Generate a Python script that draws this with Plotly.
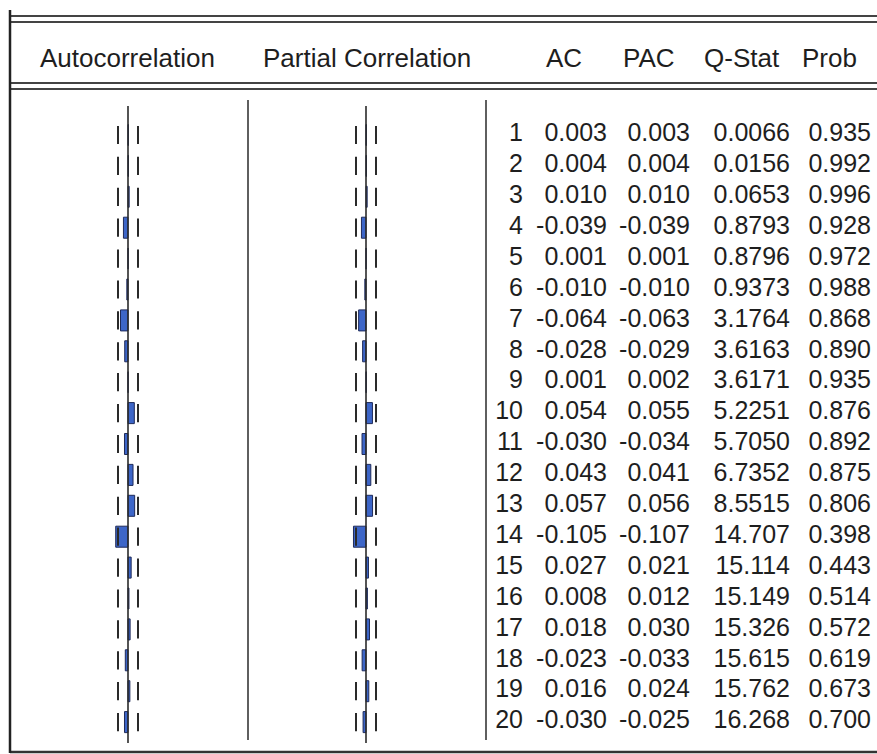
import plotly.graph_objects as go

# ---------------- data ----------------
LAGS = list(range(1, 21))
AC = [0.003, 0.004, 0.010, -0.039, 0.001, -0.010, -0.064, -0.028, 0.001, 0.054,
      -0.030, 0.043, 0.057, -0.105, 0.027, 0.008, 0.018, -0.023, 0.016, -0.030]
PAC = [0.003, 0.004, 0.010, -0.039, 0.001, -0.010, -0.063, -0.029, 0.002, 0.055,
       -0.034, 0.041, 0.056, -0.107, 0.021, 0.012, 0.030, -0.033, 0.024, -0.025]
Q_STAT = [0.0066, 0.0156, 0.0653, 0.8793, 0.8796, 0.9373, 3.1764, 3.6163, 3.6171, 5.2251,
          5.7050, 6.7352, 8.5515, 14.707, 15.114, 15.149, 15.326, 15.615, 15.762, 16.268]
PROB = [0.935, 0.992, 0.996, 0.928, 0.972, 0.988, 0.868, 0.890, 0.935, 0.876,
        0.892, 0.875, 0.806, 0.398, 0.443, 0.514, 0.572, 0.619, 0.673, 0.700]
BOUND = 0.0855  # approx. 2/sqrt(T) confidence band
HEADERS = ["Autocorrelation", "Partial Correlation", "AC", "PAC", "Q-Stat", "Prob"]

# ---------------- layout helpers (pixels) ----------------
W, H = 877, 754
def px(x):
    return x / W
def py(y):
    return 1 - y / H

ROW1_Y, ROW_STEP = 135, 30.9
Y_TOP = ROW1_Y - ROW_STEP / 2
Y_BOT = ROW1_Y + 19.5 * ROW_STEP
YDOM = [py(Y_BOT), py(Y_TOP)]

ACF_ZERO, PACF_ZERO = 128, 366
HALF_PX = 58.5  # pixels for 0.5 units
FONT = "Arial, Liberation Sans, sans-serif"
TXT = "#1e1e1e"
LINE = "#2a2a2a"
BAR_FILL = "#3d66c8"
BAR_LINE = "#1f2b5a"

fig = go.Figure()

def corr_column(values, xa):
    fig.add_trace(go.Bar(x=values, y=LAGS, orientation="h", width=0.68,
                         marker=dict(color=BAR_FILL, line=dict(color=BAR_LINE, width=1)),
                         xaxis=xa, yaxis="y", showlegend=False, hoverinfo="x+y"))
    for sgn in (-1, 1):
        fig.add_trace(go.Scatter(x=[sgn * BOUND] * len(LAGS), y=LAGS, mode="markers",
                                 marker=dict(symbol="line-ns", size=13,
                                             line=dict(color=LINE, width=2)),
                                 xaxis=xa, yaxis="y", showlegend=False, hoverinfo="skip"))

corr_column(AC, "x")
corr_column(PAC, "x2")

# table text
COLS = {"lag": 523, "ac": 607, "pac": 690, "q": 790, "prob": 871}
def fmt3(v):
    return f"{v:.3f}"
def fmt_q(v):
    return f"{v:.4f}" if v < 10 else f"{v:.3f}"
table_cols = [
    ([str(l) for l in LAGS], COLS["lag"]),
    ([fmt3(v) for v in AC], COLS["ac"]),
    ([fmt3(v) for v in PAC], COLS["pac"]),
    ([fmt_q(v) for v in Q_STAT], COLS["q"]),
    ([fmt3(v) for v in PROB], COLS["prob"]),
]
for texts, xr in table_cols:
    fig.add_trace(go.Scatter(x=[xr] * len(LAGS), y=LAGS, mode="text", text=texts,
                             textposition="middle left",
                             textfont=dict(family=FONT, size=25, color=TXT),
                             xaxis="x3", yaxis="y", showlegend=False, hoverinfo="skip"))

ax_hidden = dict(visible=False, showgrid=False, zeroline=False, fixedrange=True)
fig.update_layout(
    width=W, height=H, margin=dict(l=0, r=0, t=0, b=0),
    paper_bgcolor="white", plot_bgcolor="rgba(0,0,0,0)",
    xaxis=dict(domain=[px(ACF_ZERO - HALF_PX), px(ACF_ZERO + HALF_PX)], range=[-0.5, 0.5], **ax_hidden),
    xaxis2=dict(domain=[px(PACF_ZERO - HALF_PX), px(PACF_ZERO + HALF_PX)], range=[-0.5, 0.5],
                anchor="y", **ax_hidden),
    xaxis3=dict(domain=[0, 1], range=[0, W], anchor="y", **ax_hidden),
    yaxis=dict(domain=YDOM, range=[20.5, 0.5], **ax_hidden),
    barmode="overlay",
)

shapes = []
def hline(y, x0=10, x1=W, w=2, c="#444444"):
    shapes.append(dict(type="line", xref="paper", yref="paper", x0=px(x0), x1=px(x1),
                       y0=py(y), y1=py(y), line=dict(color=c, width=w)))
def vline(x, y0, y1, w=1.5, c=LINE):
    shapes.append(dict(type="line", xref="paper", yref="paper", x0=px(x), x1=px(x),
                       y0=py(y0), y1=py(y1), line=dict(color=c, width=w)))

hline(16); hline(22); hline(83); hline(89); hline(752, x0=10, w=2.5, c="#333333")
vline(10, 10, 753, w=2.5, c="#222222")
vline(248, 100, 740)
vline(486, 100, 740)
# zero lines of the two correlogram columns
for xa in ("x", "x2"):
    shapes.append(dict(type="line", xref=xa, yref="paper", x0=0, x1=0,
                       y0=py(743), y1=py(106), line=dict(color=LINE, width=1.6)))
fig.update_layout(shapes=shapes)

HEAD_X = [127, 367, 564, 649, 742, 829]
for txt, hx in zip(HEADERS, HEAD_X):
    fig.add_annotation(text=txt, x=px(hx), y=py(58), xref="paper", yref="paper",
                       showarrow=False, xanchor="center", yanchor="middle",
                       font=dict(family=FONT, size=26, color=TXT))

fig.write_html("out.html", config={"displayModeBar": False},
               post_script="document.body.style.margin='0px';document.body.style.overflow='hidden';")
